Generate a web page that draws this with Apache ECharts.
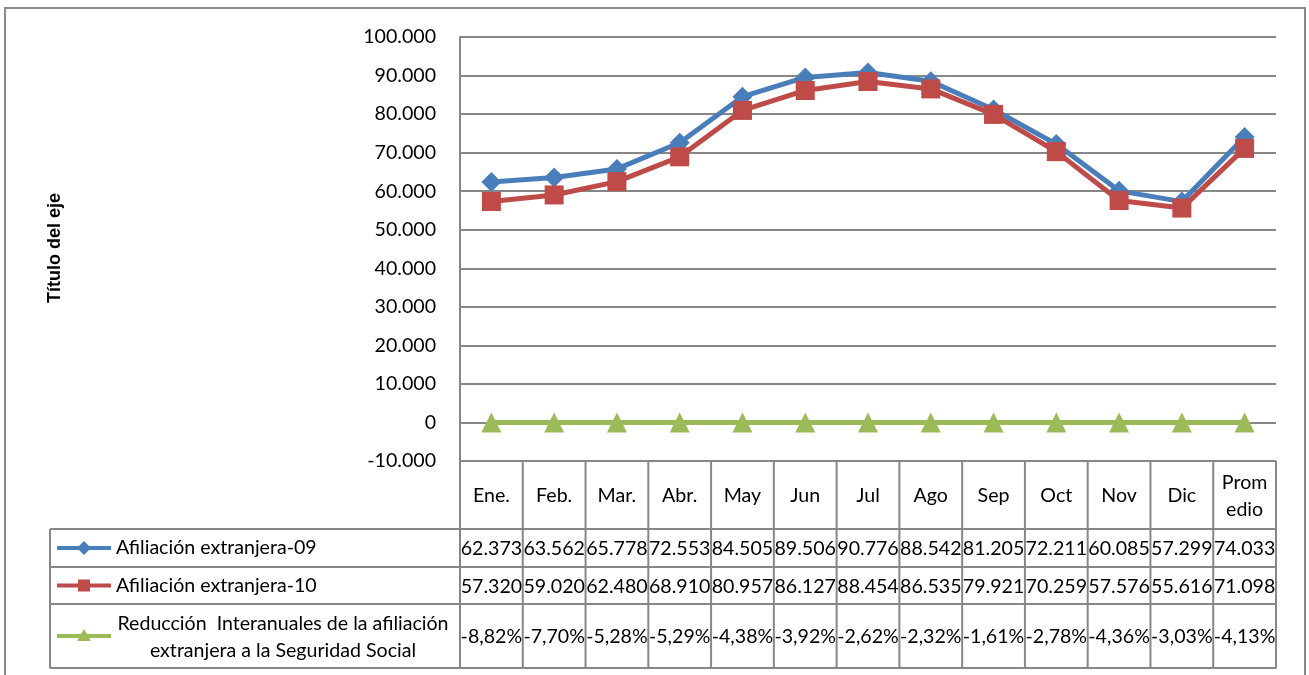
<!DOCTYPE html>
<html><head><meta charset="utf-8">
<script src="https://cdn.jsdelivr.net/npm/echarts@6/dist/echarts.min.js"></script>
<style>html,body{margin:0;padding:0;background:#fff}#c{width:1309px;height:675px}</style>
</head><body><div id="c"></div>
<script>
const categories = ['Ene.','Feb.','Mar.','Abr.','May','Jun','Jul','Ago','Sep','Oct','Nov','Dic','Prom\nedio'];
const afiliacion09 = [62373,63562,65778,72553,84505,89506,90776,88542,81205,72211,60085,57299,74033];
const afiliacion10 = [57320,59020,62480,68910,80957,86127,88454,86535,79921,70259,57576,55616,71098];
const reduccionPct = [-8.82,-7.70,-5.28,-5.29,-4.38,-3.92,-2.62,-2.32,-1.61,-2.78,-4.36,-3.03,-4.13];
const seriesNames = ['Afiliación extranjera-09','Afiliación extranjera-10','Reducción  Interanuales de la afiliación\nextranjera a la Seguridad Social'];
const yTicks = {min:-10000, max:100000, interval:10000};
const axisTitle = 'Título del eje';

const colors = ['#4A7EBB','#BE4B48','#9BBB59'];
const FONT = 'Lato';
const FS = 19.6;
const gridC = '#878787';
const GL = 460, GT = 37, GW = 816, GH = 424;
const fmtNum = v => { const s = String(Math.abs(v)).replace(/\B(?=(\d{3})+(?!\d))/g,'.'); return (v<0?'-':'')+s; };
const fmtPct = v => v.toFixed(2).replace('.',',')+'%';

const chart = echarts.init(document.getElementById('c'), null, {renderer:'canvas'});

const colW = GW / categories.length;
const headTop = GT + GH, headBot = 529;
const rows = [529, 567, 604, 668];
const legL = 50;
const g = [];
const lineStyle = {stroke: gridC, lineWidth: 2};
// outer border
g.push({type:'rect', shape:{x:5,y:8,width:1300,height:700}, style:{fill:null, stroke:'#8a8a8a', lineWidth:2}, z:0});
// header cells
for (let i=0;i<=categories.length;i++){
  const x = GL + i*colW;
  g.push({type:'line', shape:{x1:x,y1:headTop,x2:x,y2:rows[3]}, style:lineStyle});
}
for (let r=0;r<rows.length;r++){
  g.push({type:'line', shape:{x1:legL,y1:rows[r],x2:GL+GW,y2:rows[r]}, style:lineStyle});
}
g.push({type:'line', shape:{x1:legL,y1:rows[0],x2:legL,y2:rows[3]}, style:lineStyle});
categories.forEach((c,i)=>{
  g.push({type:'text', x: GL + (i+0.5)*colW, y:(headTop+headBot)/2+1, style:{text:c, font:FS+'px '+FONT, fill:'#000', align:'center', verticalAlign:'middle', lineHeight:27}});
});
const rowTexts = [afiliacion09.map(fmtNum), afiliacion10.map(fmtNum), reduccionPct.map(fmtPct)];
rowTexts.forEach((arr,r)=>{
  const cy = (rows[r]+rows[r+1])/2+1;
  arr.forEach((t,i)=>{
    g.push({type:'text', x: GL + (i+0.5)*colW, y: cy, style:{text:t, font:FS+'px '+FONT, fill:'#000', align:'center', verticalAlign:'middle'}});
  });
  // legend key
  g.push({type:'line', shape:{x1:57,y1:cy-1,x2:111,y2:cy-1}, style:{stroke:colors[r], lineWidth:4}});
  const mx = 84, my = cy-1;
  if (r===0) g.push({type:'polygon', shape:{points:[[mx,my-7],[mx+7,my],[mx,my+7],[mx-7,my]]}, style:{fill:colors[r]}});
  if (r===1) g.push({type:'rect', shape:{x:mx-6,y:my-6,width:12,height:12}, style:{fill:colors[r]}});
  if (r===2) g.push({type:'polygon', shape:{points:[[mx,my-7],[mx+7,my+5],[mx-7,my+5]]}, style:{fill:colors[r]}});
  if (r<2) {
    g.push({type:'text', x:116, y:cy-1, style:{text:seriesNames[r], font:FS+'px '+FONT, fill:'#000', align:'left', verticalAlign:'middle'}});
  } else {
    g.push({type:'text', x:283, y:cy, style:{text:seriesNames[r], font:FS+'px '+FONT, fill:'#000', align:'center', verticalAlign:'middle', lineHeight:27}});
  }
});
// axis title
g.push({type:'text', x:55, y:248, rotation:Math.PI/2, style:{text:axisTitle, font:'bold 18px "Liberation Sans"', fill:'#000', align:'center', verticalAlign:'middle'}});

chart.setOption({
  animation:false,
  grid:{left:GL, top:GT, width:GW, height:GH, containLabel:false},
  xAxis:{type:'category', data:categories, boundaryGap:true,
    axisLine:{show:false}, axisTick:{show:false}, axisLabel:{show:false}, splitLine:{show:false}},
  yAxis:{type:'value', min:yTicks.min, max:yTicks.max, interval:yTicks.interval,
    axisLine:{show:true, lineStyle:{color:gridC, width:2}}, axisTick:{show:false},
    axisLabel:{formatter:fmtNum, fontFamily:FONT, fontSize:FS, color:'#000', margin:24},
    splitLine:{lineStyle:{color:gridC, width:2}}},
  series:[
    {type:'line', name:seriesNames[0], data:afiliacion09, symbol:'diamond', symbolSize:20, itemStyle:{color:colors[0]}, lineStyle:{color:colors[0], width:5}, z:3},
    {type:'line', name:seriesNames[1], data:afiliacion10, symbol:'rect', symbolSize:19, itemStyle:{color:colors[1]}, lineStyle:{color:colors[1], width:5}, z:4},
    {type:'line', name:seriesNames[2], data:reduccionPct.map(v=>v/100), symbol:'triangle', symbolSize:20, itemStyle:{color:colors[2]}, lineStyle:{color:colors[2], width:5}, z:5}
  ],
  graphic: g
});
</script></body></html>
